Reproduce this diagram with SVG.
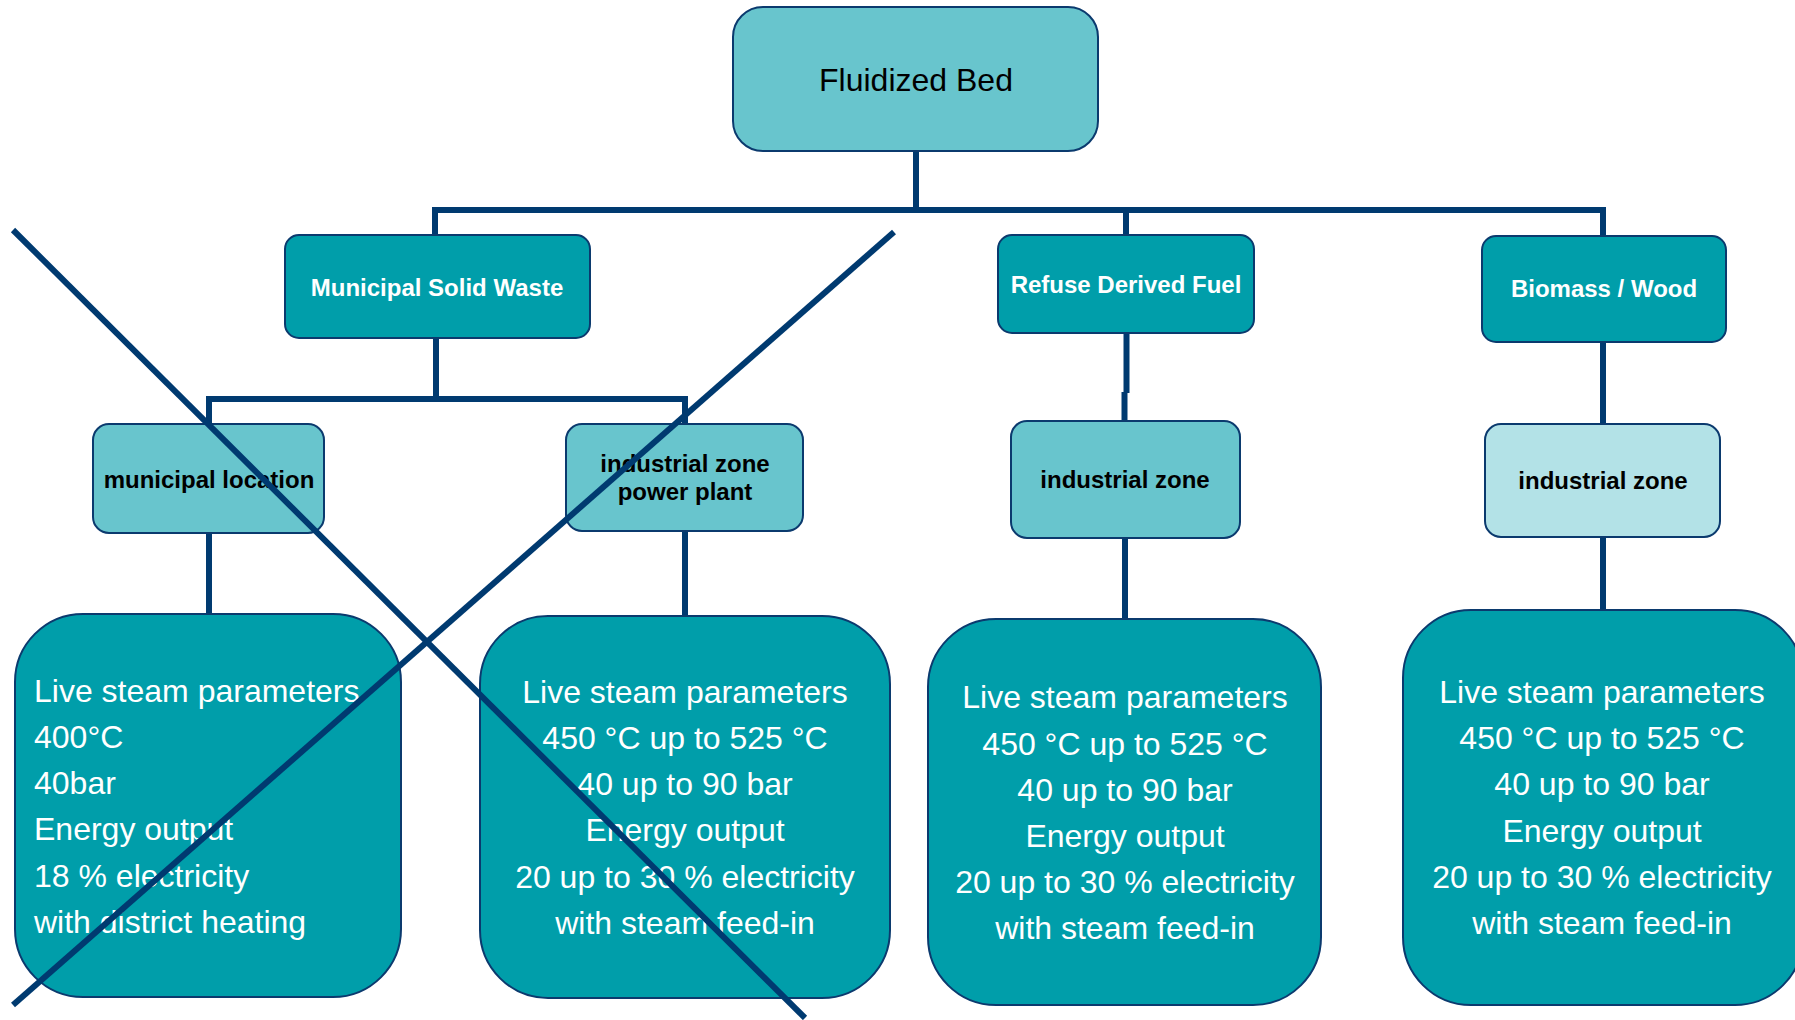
<svg xmlns="http://www.w3.org/2000/svg" width="1795" height="1020" viewBox="0 0 1795 1020">
  <style>
    .box { stroke: #0B3A6E; stroke-width: 2; }
    .dark { fill: #009EAA; }
    .mid { fill: #68C5CD; }
    .light { fill: #B3E2E7; }
    .conn { fill: none; stroke: #003A70; stroke-width: 6; stroke-linejoin: miter; stroke-linecap: butt; }
    .cross { fill: none; stroke: #003A70; stroke-width: 6; }
    .t { font-family: "Liberation Sans", Arial, sans-serif; }
    .title { font-size: 32px; fill: #000; text-anchor: middle; }
    .lvl1 { font-size: 24px; font-weight: bold; fill: #FFFFFF; text-anchor: middle; }
    .lvl2 { font-size: 24px; font-weight: bold; fill: #000; text-anchor: middle; }
    .info { font-size: 32px; fill: #FFFFFF; }
    .mid-a { text-anchor: middle; }
  </style>

  <rect width="1795" height="1020" fill="#FFFFFF"/>

  <!-- connectors -->
  <g id="connectors">
    <path class="conn" d="M916 151 V210"/>
    <path class="conn" d="M435 236 V210 H1603 V237"/>
    <path class="conn" d="M1126 210 V236"/>
    <path class="conn" d="M436 338 V399"/>
    <path class="conn" d="M209 425 V399 H685 V425"/>
    <path class="conn" d="M1126.5 333 V393"/>
    <path class="conn" d="M1124.5 392 V422"/>
    <path class="conn" d="M1603 342 V425"/>
    <path class="conn" d="M209 533 V615"/>
    <path class="conn" d="M685 531 V617"/>
    <path class="conn" d="M1125 538 V620"/>
    <path class="conn" d="M1603 537 V611"/>
  </g>

  <!-- top node -->
  <g id="fluidized-bed">
    <rect class="box mid" x="733" y="7" width="365" height="144" rx="30"/>
    <text class="t title" x="916" y="91">Fluidized Bed</text>
  </g>

  <!-- fuel types -->
  <g id="msw">
    <rect class="box dark" x="285" y="235" width="305" height="103" rx="14"/>
    <text class="t lvl1" x="437" y="296">Municipal Solid Waste</text>
  </g>
  <g id="rdf">
    <rect class="box dark" x="998" y="235" width="256" height="98" rx="14"/>
    <text class="t lvl1" x="1126" y="293">Refuse Derived Fuel</text>
  </g>
  <g id="biomass">
    <rect class="box dark" x="1482" y="236" width="244" height="106" rx="14"/>
    <text class="t lvl1" x="1604" y="297">Biomass / Wood</text>
  </g>

  <!-- locations -->
  <g id="municipal-location">
    <rect class="box mid" x="93" y="424" width="231" height="109" rx="16"/>
    <text class="t lvl2" x="209" y="488">municipal location</text>
  </g>
  <g id="power-plant">
    <rect class="box mid" x="566" y="424" width="237" height="107" rx="16"/>
    <text class="t lvl2" x="685" y="472">industrial zone</text>
    <text class="t lvl2" x="685" y="500">power plant</text>
  </g>
  <g id="rdf-industrial">
    <rect class="box mid" x="1011" y="421" width="229" height="117" rx="16"/>
    <text class="t lvl2" x="1125" y="488">industrial zone</text>
  </g>
  <g id="biomass-industrial">
    <rect class="box light" x="1485" y="424" width="235" height="113" rx="16"/>
    <text class="t lvl2" x="1603" y="489">industrial zone</text>
  </g>

  <!-- steam parameter boxes -->
  <g id="steam-msw-municipal">
    <rect class="box dark" x="15" y="614" width="386" height="383" rx="68"/>
    <text class="t info" x="34" y="702">Live steam parameters</text>
    <text class="t info" x="34" y="748">400°C</text>
    <text class="t info" x="34" y="794">40bar</text>
    <text class="t info" x="34" y="840">Energy output</text>
    <text class="t info" x="34" y="887">18 % electricity</text>
    <text class="t info" x="34" y="933">with district heating</text>
  </g>
  <g id="steam-msw-industrial">
    <rect class="box dark" x="480" y="616" width="410" height="382" rx="68"/>
    <g class="t info mid-a">
      <text x="685" y="703">Live steam parameters</text>
      <text x="685" y="749">450 °C up to 525 °C</text>
      <text x="685" y="795">40 up to 90 bar</text>
      <text x="685" y="841">Energy output</text>
      <text x="685" y="888">20 up to 30 % electricity</text>
      <text x="685" y="934">with steam feed-in</text>
    </g>
  </g>
  <g id="steam-rdf">
    <rect class="box dark" x="928" y="619" width="393" height="386" rx="68"/>
    <g class="t info mid-a">
      <text x="1125" y="708">Live steam parameters</text>
      <text x="1125" y="755">450 °C up to 525 °C</text>
      <text x="1125" y="801">40 up to 90 bar</text>
      <text x="1125" y="847">Energy output</text>
      <text x="1125" y="893">20 up to 30 % electricity</text>
      <text x="1125" y="939">with steam feed-in</text>
    </g>
  </g>
  <g id="steam-biomass">
    <rect class="box dark" x="1403" y="610" width="400" height="395" rx="68"/>
    <g class="t info mid-a">
      <text x="1602" y="703">Live steam parameters</text>
      <text x="1602" y="749">450 °C up to 525 °C</text>
      <text x="1602" y="795">40 up to 90 bar</text>
      <text x="1602" y="842">Energy output</text>
      <text x="1602" y="888">20 up to 30 % electricity</text>
      <text x="1602" y="934">with steam feed-in</text>
    </g>
  </g>

  <!-- strike-through over the municipal solid waste branch -->
  <g id="strike">
    <line class="cross" x1="13" y1="230" x2="805" y2="1018"/>
    <line class="cross" x1="894" y1="232" x2="13" y2="1005"/>
  </g>
</svg>
